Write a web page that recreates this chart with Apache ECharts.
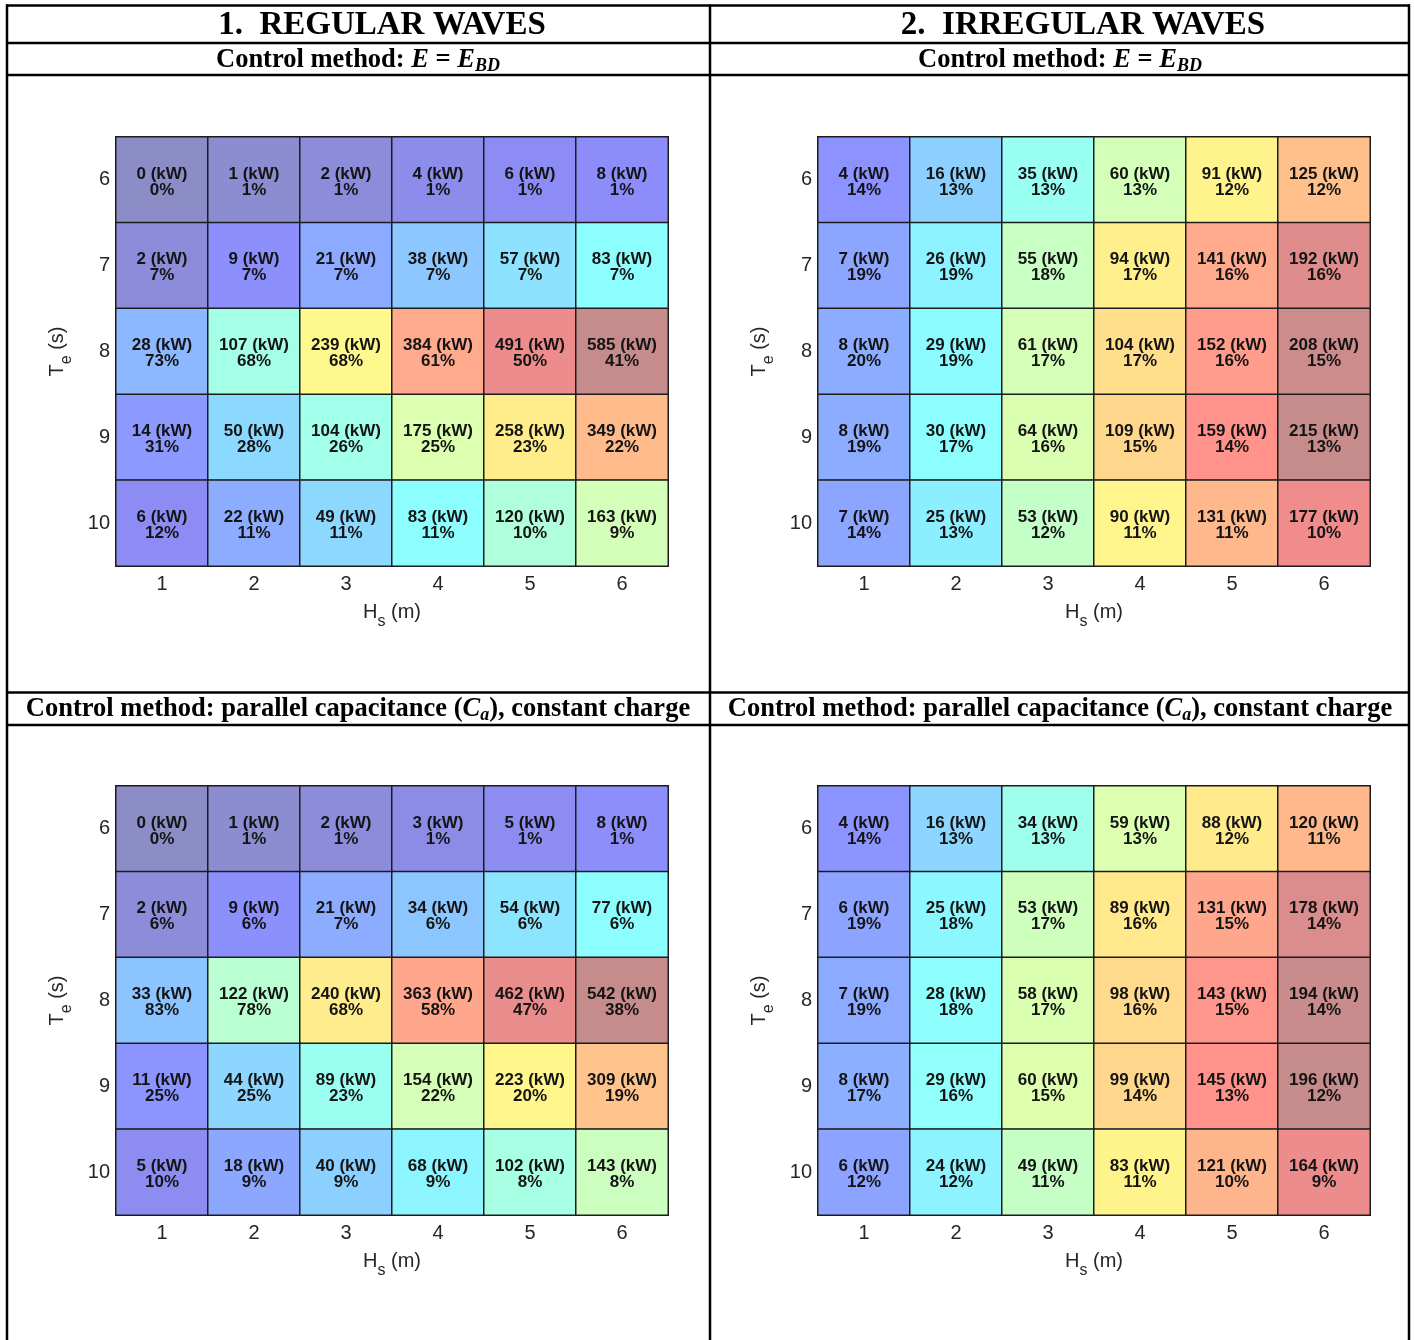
<!DOCTYPE html>
<html>
<head>
<meta charset="utf-8">
<script src="https://cdn.jsdelivr.net/npm/echarts@6/dist/echarts.min.js"></script>
<style>
  html, body { margin: 0; padding: 0; background: #fff; }
  #chart { width: 1414px; height: 1340px; }
</style>
</head>
<body>
<div id="chart"></div>
<script>
// Axis categories
const hsLabels = ['1', '2', '3', '4', '5', '6'];      // significant wave height, m
const teLabels = ['6', '7', '8', '9', '10'];          // energy period, s

// Mean power (kW), rows = Te 6..10, columns = Hs 1..6
const regularEbdPower = [
  [0, 1, 2, 4, 6, 8],
  [2, 9, 21, 38, 57, 83],
  [28, 107, 239, 384, 491, 585],
  [14, 50, 104, 175, 258, 349],
  [6, 22, 49, 83, 120, 163]
];
const regularEbdShare = [
  [0, 1, 1, 1, 1, 1],
  [7, 7, 7, 7, 7, 7],
  [73, 68, 68, 61, 50, 41],
  [31, 28, 26, 25, 23, 22],
  [12, 11, 11, 11, 10, 9]
];

const irregularEbdPower = [
  [4, 16, 35, 60, 91, 125],
  [7, 26, 55, 94, 141, 192],
  [8, 29, 61, 104, 152, 208],
  [8, 30, 64, 109, 159, 215],
  [7, 25, 53, 90, 131, 177]
];
const irregularEbdShare = [
  [14, 13, 13, 13, 12, 12],
  [19, 19, 18, 17, 16, 16],
  [20, 19, 17, 17, 16, 15],
  [19, 17, 16, 15, 14, 13],
  [14, 13, 12, 11, 11, 10]
];

const regularCaPower = [
  [0, 1, 2, 3, 5, 8],
  [2, 9, 21, 34, 54, 77],
  [33, 122, 240, 363, 462, 542],
  [11, 44, 89, 154, 223, 309],
  [5, 18, 40, 68, 102, 143]
];
const regularCaShare = [
  [0, 1, 1, 1, 1, 1],
  [6, 6, 7, 6, 6, 6],
  [83, 78, 68, 58, 47, 38],
  [25, 25, 23, 22, 20, 19],
  [10, 9, 9, 9, 8, 8]
];

const irregularCaPower = [
  [4, 16, 34, 59, 88, 120],
  [6, 25, 53, 89, 131, 178],
  [7, 28, 58, 98, 143, 194],
  [8, 29, 60, 99, 145, 196],
  [6, 24, 49, 83, 121, 164]
];
const irregularCaShare = [
  [14, 13, 13, 13, 12, 11],
  [19, 18, 17, 16, 15, 14],
  [19, 18, 17, 16, 15, 14],
  [17, 16, 15, 14, 13, 12],
  [12, 12, 11, 11, 10, 9]
];

// Translucent jet colour ramp on a square-root scale
function rampColor(t) {
  const s = Math.sqrt(t);
  const clamp = v => Math.max(0, Math.min(1, v));
  const r = clamp(1.5 - Math.abs(4 * s - 3));
  const g = clamp(1.5 - Math.abs(4 * s - 2));
  const b = clamp(1.5 - Math.abs(4 * s - 1));
  const a = 0.45;
  const mix = x => Math.round(255 * (1 - a) + 255 * a * x);
  return 'rgb(' + mix(r) + ',' + mix(g) + ',' + mix(b) + ')';
}
const palette = [];
for (let i = 0; i <= 160; i++) palette.push(rampColor(i / 160));

const panels = [
  { power: regularEbdPower, share: regularEbdShare, left: 116, top: 137 },
  { power: irregularEbdPower, share: irregularEbdShare, left: 818, top: 137 },
  { power: regularCaPower, share: regularCaShare, left: 116, top: 786 },
  { power: irregularCaPower, share: irregularCaShare, left: 818, top: 786 }
];

const SANS = '"Liberation Sans", Arial, sans-serif';
const SERIF = '"Liberation Serif", "Times New Roman", serif';

const axisNameRich = {
  n: { fontFamily: SANS, fontSize: 20, color: '#262626', lineHeight: 22 },
  s: { fontFamily: SANS, fontSize: 16, color: '#262626', lineHeight: 12, verticalAlign: 'bottom', padding: [0, 0, -7, 0] }
};

const grids = [], xAxes = [], yAxes = [], series = [], visualMaps = [];
panels.forEach((p, i) => {
  grids.push({
    left: p.left, top: p.top, width: 552, height: 429,
    show: true, borderColor: '#9a9a9a', borderWidth: 1, backgroundColor: 'transparent'
  });
  xAxes.push({
    type: 'category', gridIndex: i, data: hsLabels,
    axisLine: { show: true, lineStyle: { color: '#9a9a9a', width: 1 } },
    axisTick: { show: false }, splitLine: { show: false },
    axisLabel: { fontFamily: SANS, fontSize: 20, color: '#262626', margin: 8 },
    name: '{n|H}{s|s}{n| (m)}', nameLocation: 'middle', nameGap: 35,
    nameTextStyle: { rich: axisNameRich }
  });
  yAxes.push({
    type: 'category', gridIndex: i, data: teLabels, inverse: true,
    axisLine: { show: true, lineStyle: { color: '#9a9a9a', width: 1 } },
    axisTick: { show: false }, splitLine: { show: false },
    axisLabel: { fontFamily: SANS, fontSize: 20, color: '#262626', margin: 6, padding: [7, 0, 0, 0] },
    name: '{n|T}{s|e}{n| (s)}', nameLocation: 'middle', nameGap: 48, nameRotate: 90,
    nameTextStyle: { rich: axisNameRich }
  });
  const data = [];
  p.power.forEach((row, r) => row.forEach((v, c) => data.push([c, r, v, p.share[r][c]])));
  series.push({
    type: 'heatmap', xAxisIndex: i, yAxisIndex: i, data: data,
    itemStyle: { borderColor: '#1c1c1c', borderWidth: 1.5 },
    label: {
      show: true, fontFamily: SANS, fontWeight: 'bold', fontSize: 17, lineHeight: 16,
      color: '#141414', offset: [0, 2],
      formatter: q => q.data[2] + ' (kW)\n' + q.data[3] + '%'
    },
    emphasis: { disabled: true }
  });
  visualMaps.push({
    type: 'continuous', show: false, seriesIndex: i, dimension: 2,
    min: 0, max: Math.max(...p.power.flat()),
    inRange: { color: palette }
  });
});

// Table frame and header cells
const lineStyle = { stroke: '#000', lineWidth: 2.5 };
const hLine = (y, x1, x2) => ({ type: 'line', shape: { x1: x1, y1: y, x2: x2, y2: y }, style: lineStyle, silent: true });
const vLine = (x, y1, y2) => ({ type: 'line', shape: { x1: x, y1: y1, x2: x, y2: y2 }, style: lineStyle, silent: true });

const headRich = {
  a: { fontFamily: SERIF, fontWeight: 'bold', fontSize: 26.5, lineHeight: 30, fill: '#000' },
  i: { fontFamily: SERIF, fontWeight: 'bold', fontStyle: 'italic', fontSize: 26.5, lineHeight: 30, fill: '#000' },
  s: { fontFamily: SERIF, fontWeight: 'bold', fontStyle: 'italic', fontSize: 18, lineHeight: 20, verticalAlign: 'bottom', fill: '#000' }
};
const headText = (x, y, text) => ({
  type: 'text', x: x, y: y, silent: true,
  style: { text: text, rich: headRich, align: 'center', verticalAlign: 'middle' }
});
const titleText = (x, y, text) => ({
  type: 'text', x: x, y: y, silent: true,
  style: { text: text, font: 'bold 33px ' + SERIF, fill: '#000', align: 'center', verticalAlign: 'middle' }
});

const graphics = [
  hLine(5.5, 6, 1410), hLine(43, 6, 1410), hLine(75, 6, 1410),
  hLine(692.5, 6, 1410), hLine(725, 6, 1410),
  vLine(7, 4.5, 1340), vLine(710, 4.5, 1340), vLine(1409, 4.5, 1340),
  titleText(382, 25, '1.  REGULAR WAVES'),
  titleText(1083, 25, '2.  IRREGULAR WAVES'),
  headText(358, 60, '{a|Control method: }{i|E}{a| = }{i|E}{s|BD}'),
  headText(1060, 60, '{a|Control method: }{i|E}{a| = }{i|E}{s|BD}'),
  headText(358, 709, '{a|Control method: parallel capacitance (}{i|C}{s|a}{a|), constant charge}'),
  headText(1060, 709, '{a|Control method: parallel capacitance (}{i|C}{s|a}{a|), constant charge}')
];

const chart = echarts.init(document.getElementById('chart'), null, { renderer: 'canvas' });
chart.setOption({
  animation: false,
  backgroundColor: '#fff',
  grid: grids,
  xAxis: xAxes,
  yAxis: yAxes,
  visualMap: visualMaps,
  series: series,
  graphic: graphics
});
</script>
</body>
</html>
